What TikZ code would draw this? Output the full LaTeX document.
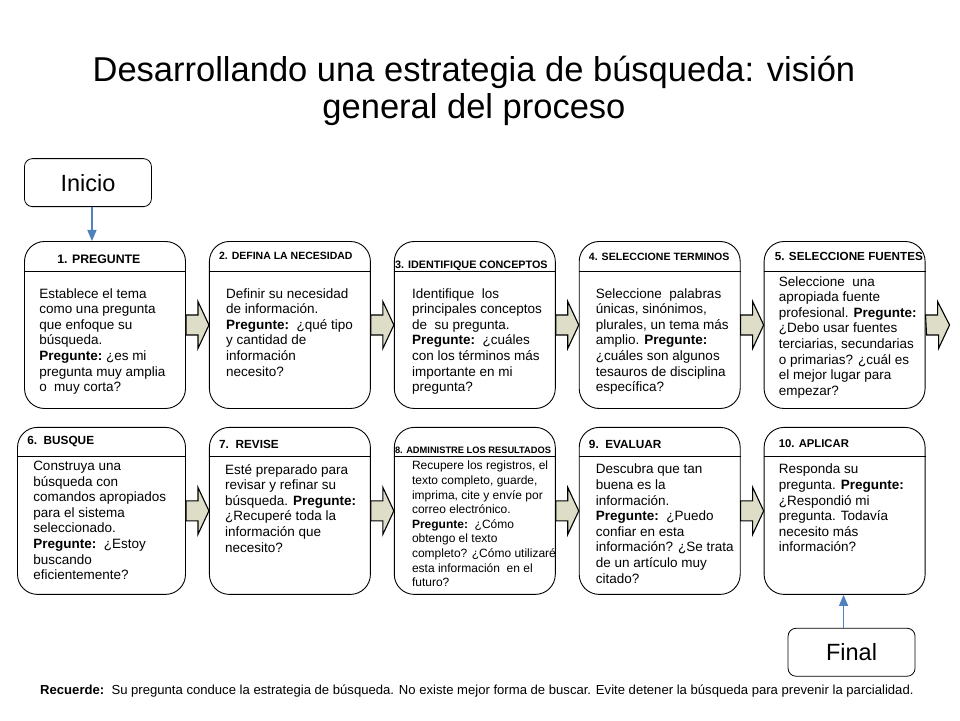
\documentclass[tikz,border=0pt]{standalone}
\usepackage{fontspec}
\setmainfont{Liberation Sans}
\usetikzlibrary{arrows, shapes, positioning}

\definecolor{beige}{RGB}{221,221,200}
\definecolor{azul}{RGB}{79,129,189}

\begin{document}
\begin{tikzpicture}[x=1pt, y=1pt, node distance=23pt,
 paso/.style={draw, rounded corners=20pt, minimum width=161pt, minimum height=167pt, line width=0.9pt},
 cabeza/.style={anchor=west, inner sep=0pt, font=\bfseries\fontsize{#1}{#1}\selectfont},
 texto/.style={anchor=north west, inner sep=0pt, align=left, font=\fontsize{13.5}{15.6}\selectfont},
 extremo/.style={draw, rounded corners=8pt, minimum width=127pt, minimum height=48pt, line width=0.8pt, font=\fontsize{23.5}{28}\selectfont},
 flecha/.style={draw, fill=beige, line width=1.1pt, line join=miter},
 azulflecha/.style={->, >=triangle 45, draw=azul, line width=1.6pt}]
  \useasboundingbox (0,0) rectangle (960,720);

  % titulo
  \node[align=center, font=\fontsize{34.5}{37}\selectfont] (titulo) at (474,629) {Desarrollando una estrategia de búsqueda: visión\\general del proceso};

  % cajas
  \node[paso] (b1) at (105,395) {};
  \node[paso] (b2) [right=of b1] {};
  \node[paso] (b3) [right=of b2] {};
  \node[paso] (b4) [right=of b3] {};
  \node[paso] (b5) [right=of b4] {};
  \node[paso, minimum width=168pt] (b6) [below left=18pt and 0pt of b1.south east] {};
  \node[paso] (b7) [right=of b6] {};
  \node[paso] (b8) [right=of b7] {};
  \node[paso] (b9) [right=of b8] {};
  \node[paso] (b10) [right=of b9] {};
  \coordinate (sal) at ([xshift=24pt]b5.east);

  \foreach \n in {1,...,10}
    \draw[line width=0.9pt] ([yshift=-30pt]b\n.north west) -- ([yshift=-30pt]b\n.north east);

  % encabezados
  \node[cabeza=12.3] (h1) at ([xshift=33pt,yshift=-18pt]b1.north west) {1. PREGUNTE};
  \node[cabeza=10.5] (h2) at ([xshift=10pt,yshift=-15pt]b2.north west) {2. DEFINA LA NECESIDAD};
  \node[cabeza=10.8] (h3) at ([xshift=1pt,yshift=-25pt]b3.north west) {3. IDENTIFIQUE CONCEPTOS};
  \node[cabeza=10.6] (h4) at ([xshift=10pt,yshift=-16pt]b4.north west) {4. SELECCIONE TERMINOS};
  \node[cabeza=11.7] (h5) at ([xshift=11pt,yshift=-15pt]b5.north west) {5. SELECCIONE FUENTES};
  \node[cabeza=11.8] (h6) at ([xshift=10pt,yshift=-15pt]b6.north west) {6.\ \ BUSQUE};
  \node[cabeza=11.8] (h7) at ([xshift=10pt,yshift=-17pt]b7.north west) {7.\ \ REVISE};
  \node[cabeza=9.3] (h8) at ([xshift=1pt,yshift=-23pt]b8.north west) {8. ADMINISTRE LOS RESULTADOS};
  \node[cabeza=11.8] (h9) at ([xshift=10pt,yshift=-17pt]b9.north west) {9.\ \ EVALUAR};
  \node[cabeza=11.3] (h10) at ([xshift=15pt,yshift=-17pt]b10.north west) {10. APLICAR};

  % textos
  \node[texto] (t1) at ([xshift=15pt,yshift=-47pt]b1.north west) {Establece el tema\\como una pregunta\\que enfoque su\\búsqueda.\\\textbf{Pregunte:}\ ¿es mi\\pregunta muy amplia\\o\ \ muy corta?};
  \node[texto] (t2) at ([xshift=17pt,yshift=-47pt]b2.north west) {Definir su necesidad\\de información.\\\textbf{Pregunte:}\ \ ¿qué tipo\\y cantidad de\\información\\necesito?};
  \node[texto] (t3) at ([xshift=18pt,yshift=-47pt]b3.north west) {Identifique\ \ los\\principales conceptos\\de\ \ su pregunta.\\\textbf{Pregunte:}\ \ ¿cuáles\\con los términos más\\importante en mi\\pregunta?};
  \node[texto] (t4) at ([xshift=17pt,yshift=-47pt]b4.north west) {Seleccione\ \ palabras\\únicas, sinónimos,\\plurales, un tema más\\amplio. \textbf{Pregunte:}\\¿cuáles son algunos\\tesauros de disciplina\\específica?};
  \node[texto] (t5) at ([xshift=15pt,yshift=-35pt]b5.north west) {Seleccione\ \ una\\apropiada fuente\\profesional. \textbf{Pregunte:}\\¿Debo usar fuentes\\terciarias, secundarias\\o primarias? ¿cuál es\\el mejor lugar para\\empezar?};
  \node[texto] (t6) at ([xshift=16pt,yshift=-34pt]b6.north west) {Construya una\\búsqueda con\\comandos apropiados\\para el sistema\\seleccionado.\\\textbf{Pregunte:}\ \ ¿Estoy\\buscando\\eficientemente?};
  \node[texto] (t7) at ([xshift=16pt,yshift=-37pt]b7.north west) {Esté preparado para\\revisar y refinar su\\búsqueda. \textbf{Pregunte:}\\¿Recuperé toda la\\información que\\necesito?};
  \node[texto, font=\fontsize{12}{14.6}\selectfont] (t8) at ([xshift=18pt,yshift=-34pt]b8.north west) {Recupere los registros, el\\texto completo, guarde,\\imprima, cite y envíe por\\correo electrónico.\\\textbf{Pregunte:}\ \ ¿Cómo\\obtengo el texto\\completo? ¿Cómo utilizaré\\esta información\ \ en el\\futuro?};
  \node[texto] (t9) at ([xshift=17pt,yshift=-37pt]b9.north west) {Descubra que tan\\buena es la\\información.\\\textbf{Pregunte:}\ \ ¿Puedo\\confiar en esta\\información? ¿Se trata\\de un artículo muy\\citado?};
  \node[texto] (t10) at ([xshift=15pt,yshift=-37pt]b10.north west) {Responda su\\pregunta. \textbf{Pregunte:}\\¿Respondió mi\\pregunta. Todavía\\necesito más\\información?};

  % flechas entre pasos
  \foreach \a/\b in {b1/b2, b2/b3, b3/b4, b4/b5, b5/sal, b6/b7, b7/b8, b8/b9, b9/b10}
    \draw[flecha] ([yshift=10pt]\a.east) -- ++(12pt,0) -- ++(0,13.5pt) -- (\a.east -| \b.west)
      -- ++(-11pt,-23.5pt) -- ++(0,13.5pt) -- ++(-12pt,0) -- cycle;

  % inicio y final
  \node[extremo] (ini) [above right=34pt and 0pt of b1.north west] {Inicio};
  \node[extremo] (fin) [below right=33pt and 24pt of b10.south west] {Final};
  \draw[azulflecha] ([xshift=4pt]ini.south) -- ([xshift=4pt]ini.south |- b1.north);
  \draw[azulflecha] ([xshift=-8pt]fin.north) -- ([xshift=-8pt]fin.north |- b10.south);

  % nota
  \node[anchor=west, inner sep=0pt, font=\fontsize{13.1}{15}\selectfont] (nota) at (40,29) {\textbf{Recuerde:}\ \ Su pregunta conduce la estrategia de búsqueda. No existe mejor forma de buscar. Evite detener la búsqueda para prevenir la parcialidad.};
\end{tikzpicture}
\end{document}
